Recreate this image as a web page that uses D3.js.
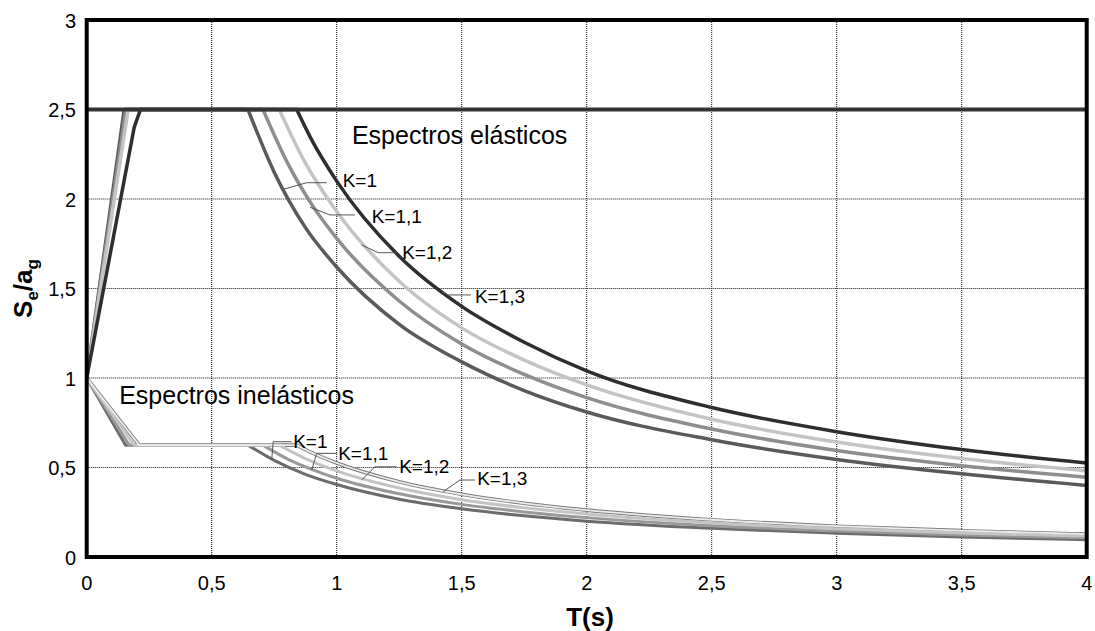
<!DOCTYPE html>
<html>
<head>
<meta charset="utf-8">
<script src="https://cdn.jsdelivr.net/npm/d3@7"></script>
<style>
  html, body { margin: 0; padding: 0; background: #fff; }
  svg { display: block; font-family: "Liberation Sans", Arial, sans-serif; }
</style>
</head>
<body>
<svg id="chart" width="1095" height="631"></svg>
<script>
// ---------- data ----------
const categories = ["K=1", "K=1,1", "K=1,2", "K=1,3"];
const xTicks = [0, 0.5, 1, 1.5, 2, 2.5, 3, 3.5, 4];
const xTickLabels = ["0", "0,5", "1", "1,5", "2", "2,5", "3", "3,5", "4"];
const yTicks = [0, 0.5, 1, 1.5, 2, 2.5, 3];
const yTickLabels = ["0", "0,5", "1", "1,5", "2", "2,5", "3"];
const plateauLevel = 2.5;

// elastic spectra [T, Se/ag]
const elasticK10 = [[0,1.0],[0.15,2.5],[0.645,2.5],[0.75,2.15],[0.875,1.84],[1.0,1.62],[1.25,1.30],[1.5,1.09],[1.75,0.93],[2.0,0.81],[2.5,0.655],[3.0,0.545],[3.5,0.465],[4.0,0.40]];
const elasticK11 = [[0,1.0],[0.157,2.5],[0.705,2.5],[0.8,2.21],[0.9,1.97],[1.0,1.78],[1.25,1.43],[1.5,1.19],[1.75,1.02],[2.0,0.89],[2.5,0.715],[3.0,0.595],[3.5,0.51],[4.0,0.445]];
const elasticK12 = [[0,1.0],[0.166,2.5],[0.77,2.5],[0.875,2.2],[1.0,1.93],[1.25,1.54],[1.5,1.28],[1.75,1.10],[2.0,0.962],[2.5,0.77],[3.0,0.642],[3.5,0.55],[4.0,0.482]];
const elasticK13 = [[0,1.0],[0.19,2.4],[0.215,2.5],[0.84,2.5],[0.9,2.33],[1.0,2.1],[1.25,1.68],[1.5,1.40],[1.75,1.20],[2.0,1.04],[2.5,0.835],[3.0,0.70],[3.5,0.60],[4.0,0.525]];
const elasticCorner = [2, 2, 2, 3];

// inelastic spectra [T, Sd/ag]
const inelasticK10 = [[0,1.0],[0.155,0.625],[0.645,0.625],[0.75,0.54],[0.875,0.462],[1.0,0.405],[1.25,0.323],[1.5,0.27],[1.75,0.23],[2.0,0.20],[2.5,0.16],[3.0,0.133],[3.5,0.112],[4.0,0.097]];
const inelasticK11 = [[0,1.0],[0.17,0.625],[0.705,0.625],[0.8,0.55],[0.9,0.49],[1.0,0.44],[1.25,0.353],[1.5,0.294],[1.75,0.252],[2.0,0.22],[2.5,0.175],[3.0,0.145],[3.5,0.123],[4.0,0.107]];
const inelasticK12 = [[0,1.0],[0.19,0.625],[0.77,0.625],[0.875,0.55],[1.0,0.481],[1.25,0.385],[1.5,0.32],[1.75,0.275],[2.0,0.24],[2.5,0.19],[3.0,0.158],[3.5,0.134],[4.0,0.117]];
const inelasticK13 = [[0,1.0],[0.21,0.625],[0.84,0.625],[0.9,0.583],[1.0,0.525],[1.25,0.42],[1.5,0.35],[1.75,0.30],[2.0,0.262],[2.5,0.208],[3.0,0.172],[3.5,0.147],[4.0,0.128]];
const inelasticCorner = [2, 2, 2, 2];

// annotations in data units
const elasticLabelPos = [[1.024,2.065],[1.14,1.864],[1.262,1.663],[1.553,1.419]];
const elasticLeaders = [
  [[0.786,2.054],[0.88,2.091],[0.96,2.091]],
  [[0.893,1.954],[0.973,1.911],[1.073,1.911]],
  [[1.10,1.743],[1.166,1.70],[1.24,1.70]],
  [[1.421,1.48],[1.445,1.464],[1.537,1.464]]
];
const inelasticLabelPos = [[0.826,0.607],[1.006,0.542],[1.25,0.468],[1.562,0.402]];
const inelasticLeaders = [
  [[0.74,0.542],[0.746,0.644],[0.82,0.644]],
  [[0.90,0.486],[0.92,0.579],[1.0,0.579]],
  [[1.10,0.43],[1.153,0.504],[1.24,0.504]],
  [[1.426,0.365],[1.493,0.43],[1.553,0.43]]
];
const titleElastic = {text: "Espectros elásticos", at: [1.061, 2.306]};
const titleInelastic = {text: "Espectros inelásticos", at: [0.13, 0.855]};

// ---------- drawing ----------
const svg = d3.select("#chart");
const x = d3.scaleLinear().domain([0, 4]).range([86.7, 1086.7]);
const y = d3.scaleLinear().domain([0, 3]).range([557, 20]);

// grid
const g = svg.append("g");
g.selectAll("line.vg").data(xTicks.slice(1, -1)).join("line")
  .attr("x1", d => x(d)).attr("x2", d => x(d))
  .attr("y1", y(3)).attr("y2", y(0))
  .attr("stroke", "#111").attr("stroke-width", 1).attr("stroke-dasharray", "1,1");
g.selectAll("line.hg").data(yTicks.slice(1, -1)).join("line")
  .attr("y1", d => y(d)).attr("y2", d => y(d))
  .attr("x1", x(0)).attr("x2", x(4))
  .attr("stroke", "#111").attr("stroke-width", 1).attr("stroke-dasharray", "1,1");

const lin = d3.line().x(d => x(d[0])).y(d => y(d[1]));
const smooth = d3.line().x(d => x(d[0])).y(d => y(d[1])).curve(d3.curveMonotoneX);
// straight ramp + plateau, smooth decay
function spectrumPath(s, corner) {
  const a = lin(s.slice(0, corner + 1));
  const b = smooth(s.slice(corner));
  return a + "L" + b.slice(1);
}

// inelastic
const inelastic = [inelasticK10, inelasticK11, inelasticK12, inelasticK13];
const inelColors = ["#6c6c6c", "#999999", "#c4c4c4", "#ececec"];
svg.append("path").attr("d", spectrumPath(inelasticK13, inelasticCorner[3]))
  .attr("fill", "none").attr("stroke", "#7a7a7a").attr("stroke-width", 3.6);
inelastic.forEach((s, i) => {
  svg.append("path").attr("d", spectrumPath(s, inelasticCorner[i]))
    .attr("fill", "none").attr("stroke", inelColors[i])
    .attr("stroke-width", i === 3 ? 1.8 : 3)
    .attr("stroke-linejoin", "round");
});

// elastic
const elastic = [elasticK10, elasticK11, elasticK12, elasticK13];
const elColors = ["#5a5a5a", "#8e8e8e", "#c4c4c4", "#2e2e2e"];
elastic.forEach((s, i) => {
  svg.append("path").attr("d", spectrumPath(s, elasticCorner[i]))
    .attr("fill", "none").attr("stroke", elColors[i])
    .attr("stroke-width", 3.5).attr("stroke-linejoin", "round");
});

// plateau line
svg.append("line")
  .attr("x1", x(0)).attr("x2", x(4))
  .attr("y1", y(plateauLevel)).attr("y2", y(plateauLevel))
  .attr("stroke", "#333").attr("stroke-width", 4);

// frame
svg.append("rect")
  .attr("x", x(0)).attr("y", y(3))
  .attr("width", x(4) - x(0)).attr("height", y(0) - y(3))
  .attr("fill", "none").attr("stroke", "#000").attr("stroke-width", 4);

// tick labels
svg.selectAll("text.xt").data(xTicks).join("text")
  .attr("x", d => x(d)).attr("y", 590)
  .attr("text-anchor", "middle").attr("font-size", 20).attr("fill", "#000")
  .text((d, i) => xTickLabels[i]);
svg.selectAll("text.yt").data(yTicks).join("text")
  .attr("x", 76).attr("y", d => y(d) + 7.5)
  .attr("text-anchor", "end").attr("font-size", 20).attr("fill", "#000")
  .text((d, i) => yTickLabels[i]);

// axis titles
svg.append("text")
  .attr("x", 590).attr("y", 626)
  .attr("text-anchor", "middle").attr("font-size", 26).attr("font-weight", "bold")
  .text("T(s)");
const yt = svg.append("text")
  .attr("transform", `translate(32,${y(1.5)}) rotate(-90)`)
  .attr("text-anchor", "middle").attr("font-size", 26).attr("font-weight", "bold");
yt.append("tspan").text("S");
yt.append("tspan").attr("font-size", 17).attr("dy", 6).text("e");
yt.append("tspan").attr("dy", -6).text("/a");
yt.append("tspan").attr("font-size", 17).attr("dy", 6).text("g");

// leaders and labels
[...elasticLeaders, ...inelasticLeaders].forEach(pts => {
  svg.append("path").attr("d", lin(pts))
    .attr("fill", "none").attr("stroke", "#555").attr("stroke-width", 1);
});
categories.forEach((c, i) => {
  svg.append("text").attr("x", x(elasticLabelPos[i][0])).attr("y", y(elasticLabelPos[i][1]))
    .attr("font-size", 19).attr("fill", "#000").text(c);
  svg.append("text").attr("x", x(inelasticLabelPos[i][0])).attr("y", y(inelasticLabelPos[i][1]))
    .attr("font-size", 19).attr("fill", "#000").text(c);
});

[titleElastic, titleInelastic].forEach(t => {
  svg.append("text").attr("x", x(t.at[0])).attr("y", y(t.at[1]))
    .attr("font-size", 25).attr("fill", "#000").text(t.text);
});
</script>
</body>
</html>
